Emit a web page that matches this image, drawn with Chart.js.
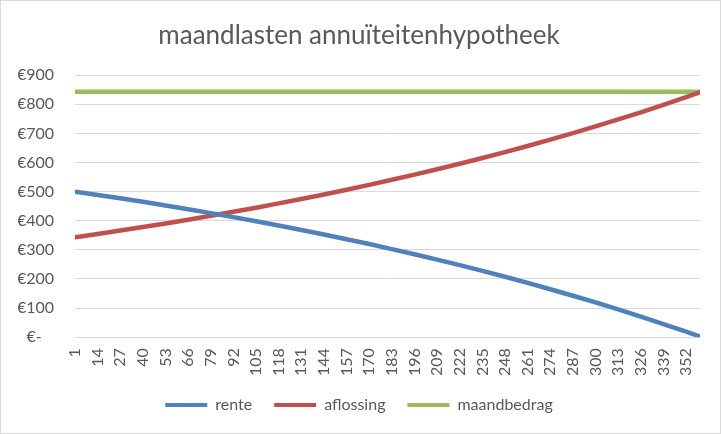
<!DOCTYPE html>
<html>
<head>
<meta charset="utf-8">
<script src="https://cdn.jsdelivr.net/npm/chart.js@4.4.1/dist/chart.umd.min.js"></script>
<style>
  body { margin: 0; background: #fff; }
  #wrap {
    position: absolute; left: 0; top: 0;
    width: 721px; height: 434px;
    box-sizing: border-box;
    border: 1px solid #d9d9d9;
    background: #fff;
  }
</style>
</head>
<body>
<div id="wrap"><canvas id="chart"></canvas></div>
<script>
const months = [1, 14, 27, 40, 53, 66, 79, 92, 105, 118, 131, 144, 157, 170, 183,
    196, 209, 222, 235, 248, 261, 274, 287, 300, 313, 326, 339, 352, 360];
const tickMonths = [1, 14, 27, 40, 53, 66, 79, 92, 105, 118, 131, 144, 157, 170, 183,
    196, 209, 222, 235, 248, 261, 274, 287, 300, 313, 326, 339, 352];

const rente = [500.0, 488.7, 477.0, 464.9, 452.4, 439.5, 426.2, 412.5, 398.3, 383.6,
    368.4, 352.8, 336.6, 319.9, 302.6, 284.8, 266.4, 247.4, 227.7, 207.4,
    186.4, 164.7, 142.3, 119.2, 95.3, 70.6, 45.1, 18.8, 2.1];
const aflossing = [343.2, 354.5, 366.2, 378.3, 390.8, 403.7, 417.0, 430.7, 444.9, 459.6,
    474.8, 490.4, 506.6, 523.3, 540.6, 558.4, 576.8, 595.8, 615.5, 635.8,
    656.8, 678.5, 700.9, 724.0, 747.9, 772.6, 798.1, 824.4, 841.1];
const maandbedrag = [843.2, 843.2, 843.2, 843.2, 843.2, 843.2, 843.2, 843.2, 843.2, 843.2,
    843.2, 843.2, 843.2, 843.2, 843.2, 843.2, 843.2, 843.2, 843.2, 843.2,
    843.2, 843.2, 843.2, 843.2, 843.2, 843.2, 843.2, 843.2, 843.2];

const yTicks = [0, 100, 200, 300, 400, 500, 600, 700, 800, 900];

const FONT = 'Lato, "Open Sans", sans-serif';
const TXT = '#595959';

function pts(values) {
    return months.map((m, i) => ({ x: m, y: values[i] }));
}

function line(label, values, color) {
    return {
        label: label,
        data: pts(values),
        borderColor: color,
        backgroundColor: color,
        borderWidth: 4.5,
        pointRadius: 0,
        cubicInterpolationMode: 'monotone',
        borderCapStyle: 'round'
    };
}

const ctx = document.getElementById('chart').getContext('2d');
new Chart(ctx, {
    type: 'line',
    data: {
        datasets: [
            line('rente', rente, '#4f81bd'),
            line('aflossing', aflossing, '#c0504d'),
            line('maandbedrag', maandbedrag, '#9bbb59')
        ]
    },
    options: {
        responsive: true,
        maintainAspectRatio: false,
        animation: false,
        layout: { padding: { left: 17, right: 20, top: 11, bottom: 10 } },
        plugins: {
            title: {
                display: true,
                text: 'maandlasten annuïteitenhypotheek',
                color: TXT,
                font: { family: FONT, size: 26, weight: 'normal' },
                padding: { top: 8, bottom: 24 }
            },
            legend: {
                position: 'bottom',
                labels: {
                    color: TXT,
                    font: { family: FONT, size: 16 },
                    boxWidth: 42,
                    boxHeight: 4,
                    padding: 22,
                    generateLabels: function(chart) {
                        return Chart.defaults.plugins.legend.labels.generateLabels(chart)
                            .map(l => Object.assign(l, { lineWidth: 0 }));
                    }
                }
            },
            tooltip: { enabled: false }
        },
        scales: {
            x: {
                type: 'linear',
                min: 1,
                max: 360,
                afterBuildTicks: function(scale) {
                    scale.ticks = tickMonths.map(v => ({ value: v }));
                },
                afterFit: function(scale) {
                    scale.height = scale.height - 12;
                },
                grid: { display: false, drawTicks: false },
                border: { color: '#d9d9d9' },
                ticks: {
                    color: TXT,
                    font: { family: FONT, size: 16 },
                    minRotation: 90,
                    maxRotation: 90,
                    autoSkip: false,
                    padding: 11
                }
            },
            y: {
                min: 0,
                max: 900,
                afterBuildTicks: function(scale) {
                    scale.ticks = yTicks.map(v => ({ value: v }));
                },
                afterFit: function(scale) {
                    scale.width = 57;
                },
                grid: { color: '#d9d9d9', drawTicks: false },
                border: { display: false },
                ticks: {
                    color: TXT,
                    font: { family: FONT, size: 16 },
                    padding: 21,
                    callback: v => v === 0 ? '€-   ' : '€' + v
                }
            }
        }
    }
});
</script>
</body>
</html>
